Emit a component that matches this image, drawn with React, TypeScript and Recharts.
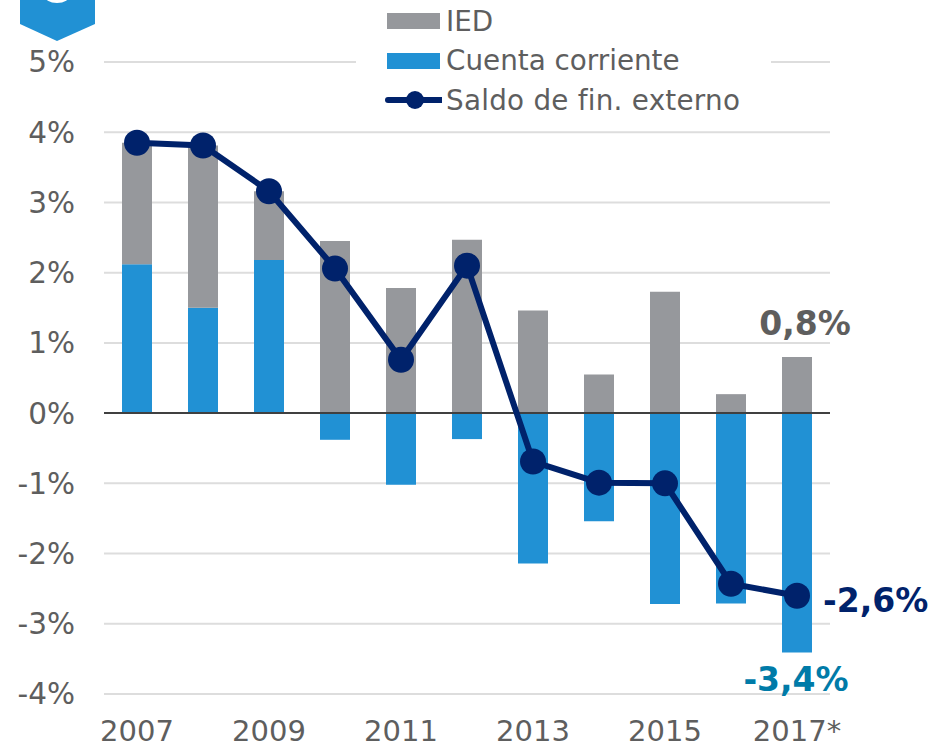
import { Bar, CartesianGrid, ComposedChart, LabelList, Legend, Line, ReferenceLine, XAxis, YAxis } from 'recharts';

const YEARS = ['2007', '2008', '2009', '2010', '2011', '2012', '2013', '2014', '2015', '2016', '2017*'];
const IED = [1.73, 2.31, 0.98, 2.45, 1.78, 2.47, 1.46, 0.55, 1.73, 0.27, 0.8];
const CUENTA = [2.12, 1.5, 2.18, -0.38, -1.02, -0.37, -2.14, -1.54, -2.72, -2.71, -3.41];
const SALDO = [3.85, 3.81, 3.16, 2.06, 0.76, 2.1, -0.69, -0.99, -1.0, -2.43, -2.6];
const Y_TICKS = [-4, -3, -2, -1, 0, 1, 2, 3, 4, 5];
const LEGEND_ORDER = ['IED', 'Cuenta corriente', 'Saldo de fin. externo'];

const GREY = '#96989C';
const BLUE = '#2191D4';
const NAVY = '#00226B';
const TEXT = '#5E5E5E';
const FONT = '"DejaVu Sans", Verdana, sans-serif';

const data = YEARS.map((year, i) => ({
    year,
    ied: IED[i],
    cuenta: CUENTA[i],
    saldo: SALDO[i],
}));

const LAST = YEARS.length - 1;
const pct = (v: number) => `${v}%`;
const comma = (v: number) => `${v.toFixed(1).replace('.', ',')}%`;

function LegendBox({ payload }: any) {
    const items = LEGEND_ORDER.map((name) => payload.find((p: any) => p.value === name)).filter(Boolean);
    return (
        <div style={{ background: '#fff', width: 415, height: 118, position: 'relative', fontFamily: FONT, fontSize: 27.8, color: TEXT }}>
            {items.map((item: any, i: number) => (
                <div key={item.value} style={{ position: 'absolute', left: 90, top: i * 39.3 + 2, lineHeight: '39px', whiteSpace: 'nowrap', letterSpacing: i === 2 ? 0.25 : 0 }}>
                    {item.value}
                </div>
            ))}
            <svg width={60} height={118} style={{ position: 'absolute', left: 26, top: 0 }}>
                <rect x={5} y={13} width={53} height={16} fill={GREY} />
                <rect x={5} y={53} width={53} height={16} fill={BLUE} />
                <line x1={6} x2={60} y1={100} y2={100} stroke={NAVY} strokeWidth={6} strokeLinecap="round" />
                <circle cx={33} cy={100} r={9} fill={NAVY} />
            </svg>
        </div>
    );
}

function endLabel(color: string, place: (p: any) => { x: number; y: number; anchor: string }) {
    return (props: any) => {
        if (props.index !== LAST) return null;
        const at = place(props);
        return (
            <text x={at.x} y={at.y} textAnchor={at.anchor} fill={color} fontFamily={FONT} fontWeight={700} fontSize={33} dominantBaseline="central">
                {comma(props.value)}
            </text>
        );
    };
}

export default function App() {
    return (
        <div style={{ position: 'absolute', left: 0, top: 0, width: 934, height: 749, overflow: 'hidden', background: '#fff' }}>
            <ComposedChart
                width={934}
                height={749}
                data={data}
                stackOffset="sign"
                margin={{ top: 62, right: 104, left: 0, bottom: 0 }}
            >
                <CartesianGrid vertical={false} stroke="#DDDDDD" strokeWidth={2} />
                <XAxis
                    dataKey="year"
                    height={55}
                    interval={1}
                    axisLine={false}
                    tickLine={false}
                    tickMargin={20}
                    tick={{ fill: TEXT, fontFamily: FONT, fontSize: 29 }}
                />
                <YAxis
                    width={104}
                    domain={[-4, 5]}
                    ticks={Y_TICKS}
                    tickFormatter={pct}
                    axisLine={false}
                    tickLine={false}
                    tickMargin={23}
                    tick={{ fill: TEXT, fontFamily: FONT, fontSize: 29.5 }}
                />
                <Legend
                    content={<LegendBox />}
                    layout="vertical"
                    align="center"
                    verticalAlign="middle"
                    wrapperStyle={{ left: 356, top: 0, width: 415, height: 118, bottom: 'auto' }}
                />
                <Bar dataKey="cuenta" name="Cuenta corriente" stackId="a" fill={BLUE} barSize={30} isAnimationActive={false}>
                    <LabelList
                        dataKey="cuenta"
                        content={endLabel('#007BA8', (p) => ({ x: p.x + p.width / 2 - 1, y: Math.max(p.y, p.y + p.height) + 27, anchor: 'middle' }))}
                    />
                </Bar>
                <Bar dataKey="ied" name="IED" stackId="a" fill={GREY} barSize={30} isAnimationActive={false}>
                    <LabelList
                        dataKey="ied"
                        content={endLabel(TEXT, (p) => ({ x: p.x + p.width / 2 + 8, y: p.y - 33, anchor: 'middle' }))}
                    />
                </Bar>
                <ReferenceLine y={0} stroke="#404040" strokeWidth={2} />
                <Line
                    dataKey="saldo"
                    name="Saldo de fin. externo"
                    stroke={NAVY}
                    strokeWidth={6}
                    type="linear"
                    dot={{ r: 13, fill: NAVY, stroke: NAVY, strokeWidth: 0 }}
                    isAnimationActive={false}
                >
                    <LabelList
                        dataKey="saldo"
                        content={endLabel(NAVY, (p) => ({ x: p.x + 26, y: p.y + 5, anchor: 'start' }))}
                    />
                </Line>
            </ComposedChart>
            <svg width={100} height={45} style={{ position: 'absolute', left: 15, top: 0 }}>
                <polygon points="5,0 80,0 80,24 42,41 5,24" fill={BLUE} />
                <ellipse cx={42} cy={-5} rx={13} ry={8} fill="#fff" />
            </svg>
        </div>
    );
}
